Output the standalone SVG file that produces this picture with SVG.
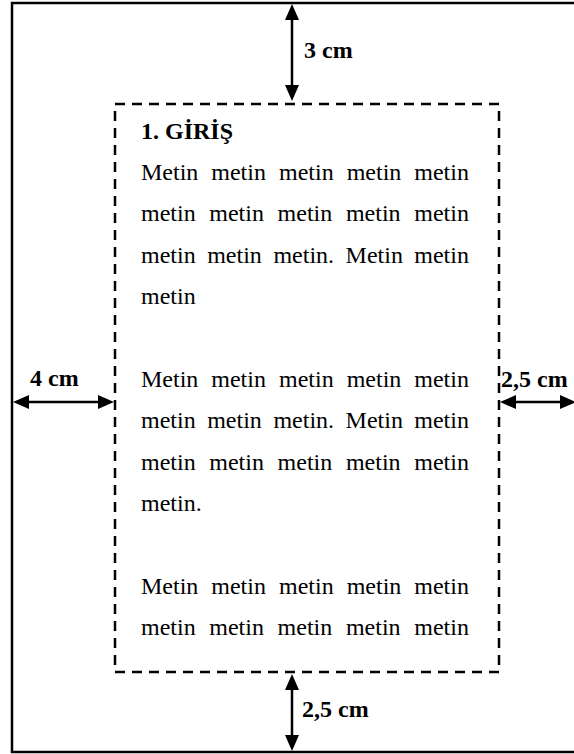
<svg xmlns="http://www.w3.org/2000/svg" width="574" height="754" viewBox="0 0 574 754">
<style>
.page{fill:#fff;stroke:#000;stroke-width:2.5}
.area{fill:none;stroke:#000;stroke-width:2.5;stroke-dasharray:10 7}
.body{font-family:"Liberation Serif","Times New Roman",serif;font-size:24px;fill:#000}
.lbl{font-family:"Liberation Serif","Times New Roman",serif;font-size:24px;font-weight:bold;fill:#000}
.ln{stroke:#000;stroke-width:2.5}
.hd{fill:#000}
</style>
<rect width="574" height="754" fill="#fff"/>
<g id="page"><rect class="page" x="12" y="3" width="600" height="749"/></g>
<g id="text-area">
<rect class="area" x="115" y="104" width="384" height="568"/>
<text class="lbl" x="141" y="139">1. GİRİŞ</text>
<text class="body" y="180"><tspan x="141">Metin</tspan><tspan x="211.3">metin</tspan><tspan x="279">metin</tspan><tspan x="346.7">metin</tspan><tspan x="414.3">metin</tspan></text>
<text class="body" y="221.4"><tspan x="141">metin</tspan><tspan x="209.3">metin</tspan><tspan x="277.6">metin</tspan><tspan x="345.9">metin</tspan><tspan x="414.3">metin</tspan></text>
<text class="body" y="262.8"><tspan x="141">metin</tspan><tspan x="207.2">metin</tspan><tspan x="273.4">metin.</tspan><tspan x="345.6">Metin</tspan><tspan x="414.3">metin</tspan></text>
<text class="body" x="141" y="304.2">metin</text>
<text class="body" y="387"><tspan x="141">Metin</tspan><tspan x="211.3">metin</tspan><tspan x="279">metin</tspan><tspan x="346.7">metin</tspan><tspan x="414.3">metin</tspan></text>
<text class="body" y="428.4"><tspan x="141">metin</tspan><tspan x="207.2">metin</tspan><tspan x="273.4">metin.</tspan><tspan x="345.6">Metin</tspan><tspan x="414.3">metin</tspan></text>
<text class="body" y="469.8"><tspan x="141">metin</tspan><tspan x="209.3">metin</tspan><tspan x="277.6">metin</tspan><tspan x="345.9">metin</tspan><tspan x="414.3">metin</tspan></text>
<text class="body" x="141" y="511.2">metin.</text>
<text class="body" y="594"><tspan x="141">Metin</tspan><tspan x="211.3">metin</tspan><tspan x="279">metin</tspan><tspan x="346.7">metin</tspan><tspan x="414.3">metin</tspan></text>
<text class="body" y="635.4"><tspan x="141">metin</tspan><tspan x="209.3">metin</tspan><tspan x="277.6">metin</tspan><tspan x="345.9">metin</tspan><tspan x="414.3">metin</tspan></text>
</g>
<g id="connectors">
<line class="ln" x1="292" y1="16" x2="292" y2="90"/>
<polygon class="hd" points="292,4 285,20 299,20"/>
<polygon class="hd" points="292,101 285,85 299,85"/>
<line class="ln" x1="25" y1="402" x2="102" y2="402"/>
<polygon class="hd" points="13,402 29,395 29,409"/>
<polygon class="hd" points="114,402 98,395 98,409"/>
<line class="ln" x1="512" y1="402" x2="565" y2="402"/>
<polygon class="hd" points="500,402 516,395 516,409"/>
<polygon class="hd" points="576,402 560,395 560,409"/>
<line class="ln" x1="292" y1="686" x2="292" y2="740"/>
<polygon class="hd" points="292,674 285,690 299,690"/>
<polygon class="hd" points="292,751 285,735 299,735"/>
</g>
<g id="labels">
<text class="lbl" x="304" y="58">3 cm</text>
<text class="lbl" x="30" y="386">4 cm</text>
<text class="lbl" x="501" y="387">2,5 cm</text>
<text class="lbl" x="302" y="717">2,5 cm</text>
</g>
</svg>
